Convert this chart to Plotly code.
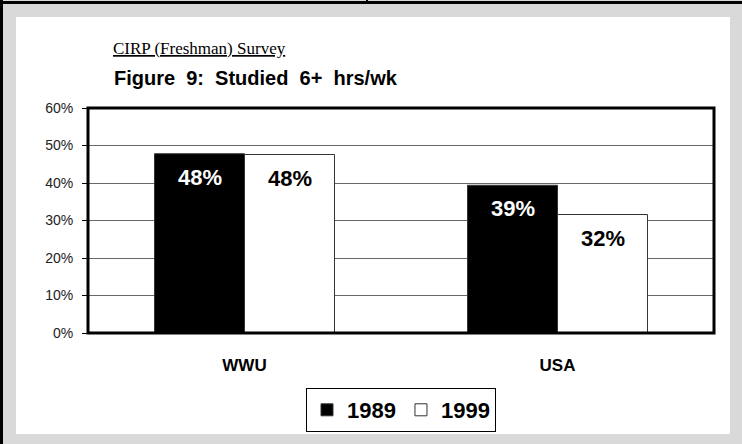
import plotly.graph_objects as go

categories = ["WWU", "USA"]
series_names = ["1989", "1999"]
values_1989 = [0.478, 0.394]
values_1999 = [0.476, 0.316]
bar_colors = ["#000000", "#ffffff"]
label_colors = ["#ffffff", "#000000"]
tick_vals = [0, 0.1, 0.2, 0.3, 0.4, 0.5, 0.6]

W, H = 742, 444
L, R, T, B = 88, 28, 108, 111
PW, PH = W - L - R, H - T - B

def px(x):
    return (x - L) / PW

def py(y):
    return (H - B - y) / PH

fig = go.Figure()
for name, vals, col in zip(series_names, [values_1989, values_1999], bar_colors):
    fig.add_trace(go.Bar(
        x=categories, y=vals, name=name,
        marker=dict(color=col, line=dict(color="#333333", width=1)),
    ))

annotations = []
for i, (vals, tc) in enumerate(zip([values_1989, values_1999], label_colors)):
    shift = -45 if i == 0 else 45
    for c, v in zip(categories, vals):
        annotations.append(dict(
            x=c, y=v, xref="x", yref="y", text="<b>%d%%</b>" % round(v * 100),
            showarrow=False, yanchor="top", yshift=-9, xshift=shift,
            font=dict(family="Liberation Sans, Arial", size=22, color=tc),
        ))

annotations.append(dict(
    xref="paper", yref="paper", x=px(111), y=py(48), xanchor="left", yanchor="middle",
    text="<u>CIRP (Freshman) Survey</u>", showarrow=False,
    font=dict(family="Liberation Serif, Times New Roman", size=17, color="#000"),
))
annotations.append(dict(
    xref="paper", yref="paper", x=px(112), y=py(78), xanchor="left", yanchor="middle",
    text="<b>Figure&nbsp; 9:&nbsp; Studied&nbsp; 6+&nbsp; hrs/wk</b>", showarrow=False,
    font=dict(family="Liberation Sans, Arial", size=20, color="#000"),
))

shapes = [
    dict(type="rect", xref="paper", yref="paper", x0=px(16), x1=px(730), y0=py(434), y1=py(17),
         fillcolor="white", line=dict(width=0), layer="below"),
    dict(type="line", xref="paper", yref="paper", x0=px(1.5), x1=px(1.5), y0=py(444), y1=py(0),
         line=dict(color="black", width=3)),
    dict(type="line", xref="paper", yref="paper", x0=px(0), x1=px(742), y0=py(2.5), y1=py(2.5),
         line=dict(color="black", width=3)),
    dict(type="line", xref="paper", yref="paper", x0=px(367), x1=px(367), y0=py(0), y1=py(4),
         line=dict(color="black", width=2)),
    dict(type="rect", xref="paper", yref="paper", x0=0, x1=1, y0=0, y1=1,
         line=dict(color="black", width=3), layer="above"),
]

fig.update_layout(
    width=W, height=H,
    margin=dict(l=L, r=R, t=T, b=B, pad=0),
    paper_bgcolor="#d9d9d9", plot_bgcolor="white",
    barmode="group", bargap=0.425, bargroupgap=0,
    showlegend=True,
    legend=dict(
        orientation="h", x=0.5, xanchor="center", y=py(388), yanchor="top",
        bgcolor="white", bordercolor="black", borderwidth=1,
        font=dict(family="Liberation Sans, Arial", size=22, color="#000", weight="bold"),
        itemwidth=30, tracegroupgap=0,
    ),
    annotations=annotations,
    shapes=shapes,
    xaxis=dict(
        showgrid=False, showline=False, ticks="",
        tickfont=dict(family="Liberation Sans, Arial", size=17, color="#000", weight="bold"),
        ticklabelstandoff=20,
    ),
    yaxis=dict(
        range=[0, 0.6], tickvals=tick_vals, tickformat=".0%",
        showgrid=True, gridcolor="#666666", gridwidth=1,
        ticks="outside", ticklen=5, tickcolor="black",
        tickfont=dict(family="Liberation Sans, Arial", size=14, color="#222"),
        ticklabelstandoff=6, zeroline=False, showline=False,
    ),
    font=dict(family="Liberation Sans, Arial"),
)

fig.write_html("out.html", config={"displayModeBar": False})

with open("out.html", encoding="utf-8") as f:
    html = f.read()
html = html.replace("<head>", "<head><style>html,body{margin:0;padding:0;overflow:hidden}</style>", 1)
with open("out.html", "w", encoding="utf-8") as f:
    f.write(html)
